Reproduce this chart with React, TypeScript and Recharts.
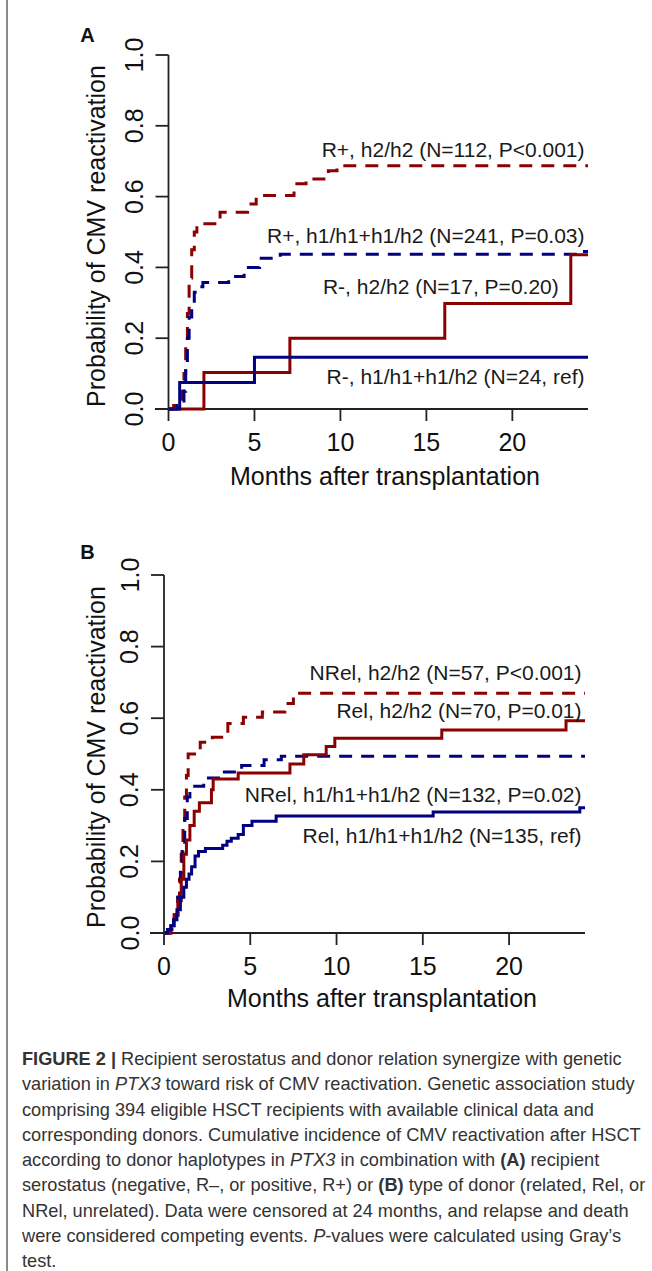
import React from "react";
import {
  LineChart,
  Line,
  XAxis,
  YAxis,
  ReferenceLine,
  ReferenceDot,
} from "recharts";

const FONT = '"Liberation Sans", Arial, Helvetica, sans-serif';
const RED = "#8b0000";
const BLUE = "#000080";
const AXIS = "#222";

const monthTicks = [0, 5, 10, 15, 20];
const probTicks = [0, 0.2, 0.4, 0.6, 0.8, 1.0];

// panel A: recipient serostatus
const monthsA_RnegH1 = [0, 0.65, 5.0, 24.4];
const probA_RnegH1 = [0, 0.075, 0.146, 0.146];
const monthsA_RnegH2 = [0, 2.06, 7.06, 16.07, 23.4, 24.4];
const probA_RnegH2 = [0, 0.103, 0.2, 0.298, 0.436, 0.436];
const monthsA_RposH2 = [0, 0.3, 0.8, 0.9, 1.0, 1.1, 1.2, 1.35, 1.5, 1.65, 3.0, 4.6, 5.1, 7.3, 8.0, 9.3, 9.8, 24.4];
const probA_RposH2 = [0, 0.01, 0.05, 0.1, 0.19, 0.27, 0.37, 0.45, 0.5, 0.523, 0.556, 0.579, 0.603, 0.636, 0.65, 0.673, 0.687, 0.687];
const monthsA_RposH1 = [0, 0.5, 0.9, 1.0, 1.1, 1.2, 1.35, 1.5, 1.7, 2.0, 3.5, 4.4, 5.3, 6.5, 23.9, 24.4];
const probA_RposH1 = [0, 0.01, 0.05, 0.12, 0.2, 0.26, 0.3, 0.33, 0.345, 0.357, 0.374, 0.4, 0.426, 0.437, 0.445, 0.445];

const labelsA = [
  "R+, h2/h2 (N=112, P<0.001)",
  "R+, h1/h1+h1/h2 (N=241, P=0.03)",
  "R-, h2/h2 (N=17, P=0.20)",
  "R-, h1/h1+h1/h2 (N=24, ref)",
];
const labelXA = [24.2, 24.2, 22.7, 24.2];
const labelYA = [0.734, 0.49, 0.347, 0.091];

// panel B: donor relation
const monthsB_NRelH2 = [0, 0.4, 0.6, 0.8, 0.9, 1.0, 1.1, 1.2, 1.3, 1.4, 2.1, 2.8, 3.7, 4.6, 5.7, 7.0, 7.5, 24.4];
const probB_NRelH2 = [0, 0.02, 0.05, 0.1, 0.15, 0.22, 0.3, 0.38, 0.44, 0.5, 0.533, 0.547, 0.585, 0.603, 0.617, 0.641, 0.67, 0.67];
const monthsB_RelH2 = [0, 0.4, 0.6, 0.8, 1.0, 1.15, 1.3, 1.5, 1.75, 2.05, 2.75, 2.85, 4.3, 7.3, 8.1, 9.4, 9.9, 16.1, 23.3, 24.4];
const probB_RelH2 = [0, 0.02, 0.05, 0.09, 0.15, 0.22, 0.26, 0.3, 0.34, 0.364, 0.4, 0.43, 0.447, 0.472, 0.498, 0.521, 0.544, 0.567, 0.593, 0.593];
const monthsB_NRelH1 = [0, 0.3, 0.6, 0.8, 0.95, 1.05, 1.2, 1.35, 1.5, 2.3, 3.5, 4.5, 5.8, 6.8, 24.4];
const probB_NRelH1 = [0, 0.01, 0.05, 0.1, 0.17, 0.24, 0.32, 0.38, 0.41, 0.433, 0.45, 0.468, 0.484, 0.494, 0.494];
const monthsB_RelH1 = [0, 0.2, 0.4, 0.55, 0.75, 0.95, 1.15, 1.3, 1.45, 1.6, 1.8, 2.0, 2.4, 3.4, 3.65, 3.9, 4.3, 4.6, 5.1, 6.5, 15.6, 24.1, 24.4];
const probB_RelH1 = [0, 0.01, 0.02, 0.037, 0.065, 0.1, 0.128, 0.15, 0.165, 0.185, 0.215, 0.228, 0.236, 0.245, 0.256, 0.265, 0.275, 0.3, 0.312, 0.327, 0.338, 0.35, 0.35];

const labelsB = [
  "NRel, h2/h2 (N=57, P<0.001)",
  "Rel, h2/h2 (N=70, P=0.01)",
  "NRel, h1/h1+h1/h2 (N=132, P=0.02)",
  "Rel, h1/h1+h1/h2 (N=135, ref)",
];
const labelXB = [24.2, 24.2, 24.2, 24.2];
const labelYB = [0.727, 0.622, 0.386, 0.271];

const zip = (ms: number[], ps: number[]) => ms.map((m, i) => ({ m, p: ps[i] }));

const YTick = (props: any) => {
  const { x, y, payload } = props;
  return (
    <text
      x={x}
      y={y}
      transform={`rotate(-90 ${x} ${y})`}
      textAnchor="middle"
      fontSize={25}
      fontFamily={FONT}
      fill="#111"
    >
      {Number(payload.value).toFixed(1)}
    </text>
  );
};

const noteLabel = (text: string) => (props: any) => {
  const vb = props.viewBox || {};
  const cx = vb.x + (vb.width || 0) / 2;
  const cy = vb.y + (vb.height || 0) / 2;
  return (
    <text
      x={cx}
      y={cy}
      textAnchor="end"
      dominantBaseline="central"
      fontSize={21}
      fontFamily={FONT}
      fill="#1a1a1a"
    >
      {text}
    </text>
  );
};

type Series = { data: { m: number; p: number }[]; color: string; dashed: boolean };

function Panel(props: {
  top: number;
  marginTop: number;
  marginLeft: number;
  marginRight: number;
  axisHeight: number;
  xStart: number;
  series: Series[];
  labels: string[];
  labelX: number[];
  labelY: number[];
}) {
  const { series, labels, labelX, labelY } = props;
  return (
    <div style={{ position: "absolute", left: 0, top: props.top }}>
      <LineChart
        width={652}
        height={500}
        margin={{ top: props.marginTop, right: props.marginRight, bottom: 0, left: props.marginLeft }}
      >
        <XAxis
          dataKey="m"
          type="number"
          domain={[0, 24.4]}
          ticks={monthTicks}
          height={props.axisHeight}
          axisLine={false}
          tickSize={12}
          tickMargin={12}
          tickLine={{ stroke: AXIS, strokeWidth: 1.8 }}
          tick={{ fontSize: 25, fill: "#111", fontFamily: FONT }}
          interval={0}
        />
        <YAxis
          dataKey="p"
          type="number"
          domain={[0, 1]}
          ticks={probTicks}
          width={60}
          tickSize={13}
          tickMargin={12.5}
          axisLine={{ stroke: AXIS, strokeWidth: 1.8 }}
          tickLine={{ stroke: AXIS, strokeWidth: 1.8 }}
          tick={<YTick />}
          interval={0}
        />
        <ReferenceLine
          segment={[
            { x: props.xStart, y: 0 },
            { x: 24.4, y: 0 },
          ]}
          stroke={AXIS}
          strokeWidth={1.8}
          ifOverflow="visible"
        />
        {series.map((s, i) => (
          <Line
            key={i}
            data={s.data}
            dataKey="p"
            type="stepAfter"
            stroke={s.color}
            strokeWidth={3}
            strokeDasharray={s.dashed ? "13 9" : undefined}
            dot={false}
            activeDot={false}
            isAnimationActive={false}
          />
        ))}
        {labels.map((t, i) => (
          <ReferenceDot
            key={t}
            x={labelX[i]}
            y={labelY[i]}
            r={1}
            fill="none"
            stroke="none"
            ifOverflow="visible"
            label={{ content: noteLabel(t) }}
          />
        ))}
      </LineChart>
    </div>
  );
}

const abs = (left: number, top: number, extra: React.CSSProperties = {}): React.CSSProperties => ({
  position: "absolute",
  left,
  top,
  transform: "translate(-50%, -50%)",
  whiteSpace: "nowrap",
  fontFamily: FONT,
  lineHeight: 1,
  color: "#111",
  ...extra,
});

const captionLines: React.ReactNode[] = [
  <>
    <b>FIGURE 2 |</b> Recipient serostatus and donor relation synergize with genetic
  </>,
  <>
    variation in <i>PTX3</i> toward risk of CMV reactivation. Genetic association study
  </>,
  <>comprising 394 eligible HSCT recipients with available clinical data and</>,
  <>corresponding donors. Cumulative incidence of CMV reactivation after HSCT</>,
  <>
    according to donor haplotypes in <i>PTX3</i> in combination with <b>(A)</b> recipient
  </>,
  <>
    serostatus (negative, R–, or positive, R+) or <b>(B)</b> type of donor (related, Rel, or
  </>,
  <>NRel, unrelated). Data were censored at 24 months, and relapse and death</>,
  <>
    were considered competing events. <i>P</i>-values were calculated using Gray’s
  </>,
  <>test.</>,
];

export default function App() {
  const seriesA: Series[] = [
    { data: zip(monthsA_RposH2, probA_RposH2), color: RED, dashed: true },
    { data: zip(monthsA_RposH1, probA_RposH1), color: BLUE, dashed: true },
    { data: zip(monthsA_RnegH2, probA_RnegH2), color: RED, dashed: false },
    { data: zip(monthsA_RnegH1, probA_RnegH1), color: BLUE, dashed: false },
  ];
  const seriesB: Series[] = [
    { data: zip(monthsB_NRelH2, probB_NRelH2), color: RED, dashed: true },
    { data: zip(monthsB_NRelH1, probB_NRelH1), color: BLUE, dashed: true },
    { data: zip(monthsB_RelH2, probB_RelH2), color: RED, dashed: false },
    { data: zip(monthsB_RelH1, probB_RelH1), color: BLUE, dashed: false },
  ];

  return (
    <div
      style={{
        position: "absolute",
        left: 0,
        top: 0,
        width: 652,
        height: 1271,
        background: "#fff",
        overflow: "hidden",
      }}
    >
      <div style={{ position: "absolute", left: 6, top: 0, width: 2, height: 1271, background: "#8a8a8a" }} />

      <Panel
        top={0}
        marginTop={55}
        marginLeft={108.5}
        marginRight={64}
        axisHeight={91}
        xStart={-0.79}
        series={seriesA}
        labels={labelsA}
        labelX={labelXA}
        labelY={labelYA}
      />
      <Panel
        top={520}
        marginTop={55}
        marginLeft={104}
        marginRight={67}
        axisHeight={87}
        xStart={-0.81}
        series={seriesB}
        labels={labelsB}
        labelX={labelXB}
        labelY={labelYB}
      />

      <div style={abs(87.5, 35, { fontSize: 20, fontWeight: "bold" })}>A</div>
      <div style={abs(87.5, 552, { fontSize: 20, fontWeight: "bold" })}>B</div>

      <div style={abs(96, 235.5, { fontSize: 25, transform: "translate(-50%, -50%) rotate(-90deg)" })}>
        Probability of CMV reactivation
      </div>
      <div style={abs(96, 757, { fontSize: 25, transform: "translate(-50%, -50%) rotate(-90deg)" })}>
        Probability of CMV reactivation
      </div>

      <div style={abs(385, 476, { fontSize: 25 })}>Months after transplantation</div>
      <div style={abs(382, 998, { fontSize: 25 })}>Months after transplantation</div>

      <div
        style={{
          position: "absolute",
          left: 22,
          top: 1047,
          fontFamily: FONT,
          fontSize: 18.2,
          lineHeight: "25.3px",
          color: "#333",
          whiteSpace: "nowrap",
        }}
      >
        {captionLines.map((l, i) => (
          <div key={i}>{l}</div>
        ))}
      </div>
    </div>
  );
}
